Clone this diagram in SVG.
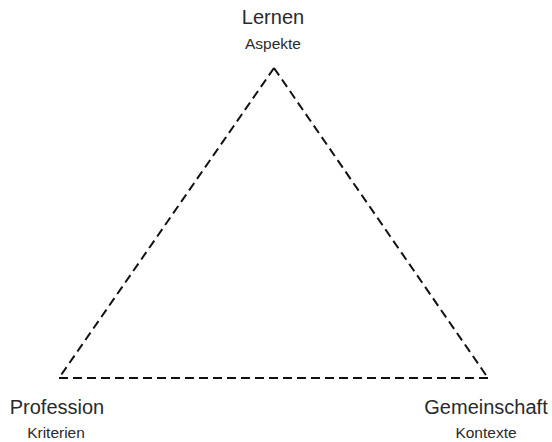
<svg xmlns="http://www.w3.org/2000/svg" width="552" height="442" viewBox="0 0 552 442">
<style>
.t{font-family:"Liberation Sans",Arial,sans-serif;fill:#2a2a2a;text-anchor:middle}
.big{font-size:20px}
.small{font-size:15.5px}
.edge{fill:none;stroke:#111;stroke-width:2;stroke-dasharray:9,5}
</style>
<rect width="552" height="442" fill="#fff"/>
<g id="connectors">
<line class="edge" x1="274" y1="68" x2="59" y2="378"/>
<line class="edge" x1="274" y1="68" x2="488" y2="378"/>
<line class="edge" x1="59" y1="378" x2="488" y2="378"/>
</g>
<g id="node-lernen">
<text class="t big" x="273" y="24">Lernen</text>
<text class="t small" x="273" y="49">Aspekte</text>
</g>
<g id="node-profession">
<text class="t big" x="57" y="414">Profession</text>
<text class="t small" x="56" y="438">Kriterien</text>
</g>
<g id="node-gemeinschaft">
<text class="t big" x="486" y="414">Gemeinschaft</text>
<text class="t small" x="486" y="438">Kontexte</text>
</g>
</svg>
